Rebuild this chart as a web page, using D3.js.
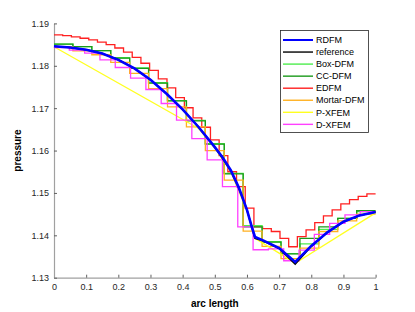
<!DOCTYPE html>
<html>
<head>
<meta charset="utf-8">
<script src="https://cdn.jsdelivr.net/npm/d3@7"></script>
<style>
body{margin:0;background:#fff;}
text{font-family:"Liberation Sans",Arial,Helvetica,sans-serif;}
</style>
</head>
<body>
<svg id="chart"></svg>
<script>
// reference solution (black)
var refArc=[0,0.05,0.1,0.15,0.2,0.25,0.3,0.35,0.4,0.45,0.5,0.55,0.575,0.6,0.625,0.65,0.7,0.75,0.8,0.85,0.9,0.95,1];
var refP=[1.1846,1.1843,1.1838,1.1829,1.1814,1.1794,1.1767,1.1734,1.1697,1.1655,1.1608,1.1552,1.1511,1.1460,1.1393,1.1387,1.1369,1.1332,1.1374,1.1407,1.1432,1.1447,1.1455];
// RDFM (blue)
var rdfmArc=[0,0.05,0.1,0.15,0.2,0.25,0.3,0.35,0.4,0.45,0.5,0.525,0.55,0.575,0.6,0.615,0.625,0.65,0.7,0.75,0.8,0.85,0.9,0.95,1];
var rdfmP=[1.1846,1.1843,1.1838,1.1829,1.1814,1.1794,1.1767,1.1734,1.1697,1.1655,1.1608,1.1583,1.1553,1.1512,1.1460,1.1420,1.1396,1.1388,1.1370,1.1337,1.1375,1.1407,1.1432,1.1447,1.1455];
// P-XFEM (yellow)
var pxfemArc=[0,0.45,0.5,0.55,0.6,0.625,0.7,0.75,1];
var pxfemP=[1.1845,1.1652,1.1606,1.1550,1.1458,1.1393,1.1358,1.1334,1.1453];
// cell values, drawn as stairs over equal cells
var boxDFM=[1.1851,1.1845,1.1836,1.1819,1.1795,1.1760,1.1718,1.1671,1.1616,1.1546,1.1423,1.1385,1.1357,1.1380,1.1414,1.1440,1.1456];
var ccDFM=[1.1851,1.1845,1.1836,1.1818,1.1794,1.1759,1.1717,1.1670,1.1615,1.1545,1.1420,1.1384,1.1356,1.1393,1.1420,1.1440,1.1458];
var edfm=[1.1873,1.1871,1.1868,1.1865,1.1861,1.1856,1.1850,1.1842,1.1832,1.1820,1.1806,1.1789,1.1769,1.1748,1.1725,1.1701,1.1677,1.1655,1.1625,1.1588,1.1550,1.1515,1.1464,1.1420,1.1416,1.1409,1.1393,1.1373,1.1397,1.1413,1.1430,1.1446,1.1460,1.1474,1.1484,1.1492,1.1498];
var mortarDFM=[1.1845,1.1835,1.1826,1.1808,1.1782,1.1746,1.1703,1.1656,1.1600,1.1530,1.1410,1.1374,1.1345,1.1370,1.1409,1.1434,1.1450];
var dxfem=[1.1843,1.1837,1.1830,1.1814,1.1796,1.1771,1.1744,1.1711,1.1672,1.1628,1.1578,1.1515,1.1420,1.1366,1.1368,1.1340,1.1365,1.1402,1.1428,1.1448,1.1456];

var xTicks=[0,0.1,0.2,0.3,0.4,0.5,0.6,0.7,0.8,0.9,1];
var yTicks=[1.13,1.14,1.15,1.16,1.17,1.18,1.19];

var names=["RDFM","reference","Box-DFM","CC-DFM","EDFM","Mortar-DFM","P-XFEM","D-XFEM"];
var colors=["#0000ff","#000000","#4ded4d","#1a9a1a","#ff2020","#ffb020","#ffff20","#ff40ff"];
var widths=[2.6,1.6,1.3,1.3,1.3,1.3,1.3,1.3];

var width=415;
var height=312;
var axL=54,axR=375.6,axT=23.4,axB=277.7;

var svg=d3.select("#chart")
.attr("width",width)
.attr("height",height)

var x=d3.scaleLinear().domain([0,1]).range([axL,axR]);
var y=d3.scaleLinear().domain([1.13,1.19]).range([axB,axT]);

var toPts=function(arc,p){
  return arc.map(function(a,i){return [a,p[i]];});
}
var toStairs=function(vals){
  var n=vals.length;
  var pts=vals.map(function(v,i){return [i/n,v];});
  pts.push([1,vals[n-1]]);
  return pts;
}

var line=d3.line().x(function(d){return x(d[0]);}).y(function(d){return y(d[1]);});
var stair=d3.line().x(function(d){return x(d[0]);}).y(function(d){return y(d[1]);}).curve(d3.curveStepAfter);

// axes
var xAxis=d3.axisBottom(x).tickValues(xTicks).tickSizeInner(-3).tickSizeOuter(0).tickPadding(6)
.tickFormat(function(d){return d3.format("~g")(d);});
var yAxis=d3.axisLeft(y).tickValues(yTicks).tickSizeInner(-3).tickSizeOuter(0).tickPadding(5)
.tickFormat(d3.format(".2f"));

var gx=svg.append("g").attr("transform","translate(0,"+axB+")").call(xAxis);
var gy=svg.append("g").attr("transform","translate("+axL+",0)").call(yAxis);
[gx,gy].forEach(function(g){
  g.select(".domain").attr("stroke","#a0a0a0").attr("stroke-width",1.2);
  g.selectAll(".tick line").attr("stroke","#606060");
  g.selectAll(".tick text").attr("fill","#262626").style("font-size","9px");
});

// series, back to front
var series=[
  {k:4,pts:toStairs(edfm),step:true},
  {k:2,pts:toStairs(boxDFM),step:true},
  {k:3,pts:toStairs(ccDFM),step:true},
  {k:5,pts:toStairs(mortarDFM),step:true},
  {k:6,pts:toPts(pxfemArc,pxfemP),step:false},
  {k:7,pts:toStairs(dxfem),step:true},
  {k:1,pts:toPts(refArc,refP),step:false},
  {k:0,pts:toPts(rdfmArc,rdfmP),step:false}
];
svg.selectAll("path.series")
.data(series)
.enter()
.append("path")
.attr("class","series")
.attr("d",function(d){return d.step?stair(d.pts):line(d.pts);})
.attr("fill","none")
.attr("stroke",function(d){return colors[d.k];})
.attr("stroke-width",function(d){return widths[d.k];})
.attr("stroke-linejoin","miter");

// axis labels
svg.append("text")
.text("arc length")
.attr("x",(axL+axR)/2)
.attr("y",307)
.attr("text-anchor","middle")
.style("font-size","10px")
.style("font-weight","bold")
.attr("fill","#000");

svg.append("text")
.text("pressure")
.attr("transform","translate(21,"+((axT+axB)/2)+") rotate(-90)")
.attr("text-anchor","middle")
.style("font-size","10px")
.style("font-weight","bold")
.attr("fill","#000");

// legend
var lg=svg.append("g");
lg.append("rect")
.attr("x",280.5).attr("y",30.5)
.attr("width",88).attr("height",102)
.attr("fill","#fff")
.attr("stroke","#262626")
.attr("stroke-width",0.8);
var rows=lg.selectAll("g.row")
.data(names)
.enter()
.append("g")
.attr("class","row")
.attr("transform",function(d,i){return "translate(0,"+(40+i*12.05)+")";});
rows.append("line")
.attr("x1",283).attr("x2",313)
.attr("y1",0).attr("y2",0)
.attr("stroke",function(d,i){return colors[i];})
.attr("stroke-width",function(d,i){return i==0?2:1.4;});
rows.append("text")
.text(function(d){return d;})
.attr("x",316)
.attr("y",3.2)
.style("font-size","9px")
.attr("fill","#000");
</script>
</body>
</html>
